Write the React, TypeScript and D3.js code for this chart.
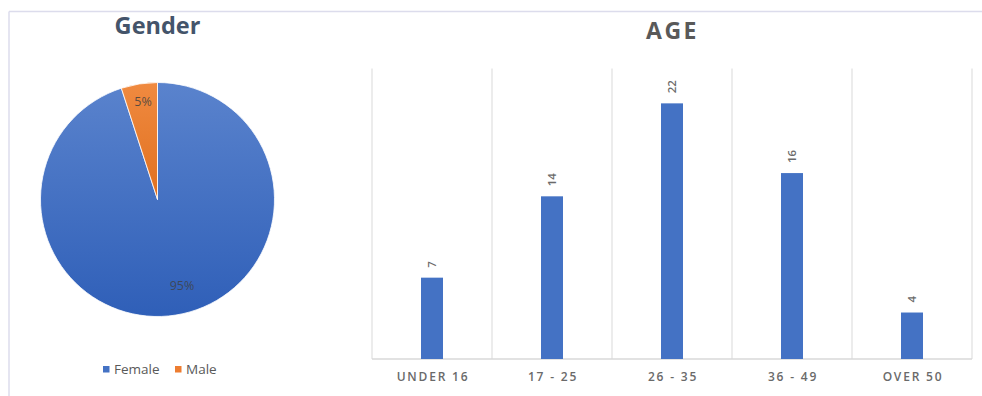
import React from "react";
import * as d3 from "d3";

const genderLabels = ["Female", "Male"];
const genderValues = [95, 5];
const genderColors = ["#4472c4", "#ed7d31"];

const ageCategories = ["UNDER 16", "17 - 25", "26 - 35", "36 - 49", "OVER 50"];
const ageValues = [7, 14, 22, 16, 4];
const yMax = 25;

const W = 982;
const H = 396;
const FONT = "'Open Sans', 'DejaVu Sans', sans-serif";

export default function App() {
  // pie
  const cx = 157.5, cy = 199.5, r = 117;
  const pie = d3.pie<number>().sort(null).value((d) => d)(genderValues);
  const arc = d3.arc<d3.PieArcDatum<number>>().innerRadius(0).outerRadius(r);

  // bars
  const x = d3.scaleBand<string>().domain(ageCategories).range([372, 972]).padding(0);
  const y = d3.scaleLinear().domain([0, yMax]).range([359, 68.5]);
  const barW = 22;

  return (
    <svg width={W} height={H} style={{ position: "absolute", left: 0, top: 0, background: "#fff" }}>
      <defs>
        <linearGradient id="gFemale" x1="0" y1="0" x2="0" y2="1">
          <stop offset="0" stopColor="#5a83cd" />
          <stop offset="1" stopColor="#2f5fb8" />
        </linearGradient>
        <linearGradient id="gMale" x1="0" y1="0" x2="0" y2="1">
          <stop offset="0" stopColor="#f08a40" />
          <stop offset="1" stopColor="#e0701f" />
        </linearGradient>
      </defs>
      <rect x={0} y={0} width={W} height={H} fill="#fff" />
      {/* frame */}
      <line x1={9} y1={11.5} x2={W} y2={11.5} stroke="#dcdcec" strokeWidth={1.5} />
      <line x1={9} y1={11.5} x2={9} y2={H} stroke="#dcdcec" strokeWidth={1.5} />

      {/* Gender */}
      <text x={157.5} y={33.5} textAnchor="middle" fontFamily={FONT} fontWeight={700} fontSize={23.5} fill="#44546a">
        Gender
      </text>
      <g transform={`translate(${cx},${cy})`}>
        {pie.map((p, i) => (
          <path key={i} d={arc(p) || ""} fill={i === 0 ? "url(#gFemale)" : "url(#gMale)"} stroke="#ffffff" strokeWidth={0.8} />
        ))}
      </g>
      <text x={143} y={106} textAnchor="middle" fontFamily={FONT} fontSize={12.5} fill="#404040" fillOpacity={0.85}>
        {genderValues[1]}%
      </text>
      <text x={182} y={290} textAnchor="middle" fontFamily={FONT} fontSize={12.5} fill="#404040" fillOpacity={0.8}>
        {genderValues[0]}%
      </text>
      {/* legend */}
      {genderLabels.map((lab, i) => {
        const lx = i === 0 ? 103 : 175;
        return (
          <g key={lab}>
            <rect x={lx} y={366} width={6.5} height={6.5} fill={genderColors[i]} />
            <text x={lx + 11} y={374} fontFamily={FONT} fontSize={13.5} fill="#595959">
              {lab}
            </text>
          </g>
        );
      })}

      {/* AGE */}
      <text x={672.5} y={38.5} textAnchor="middle" fontFamily={FONT} fontWeight={700} fontSize={23} letterSpacing={2.5} fill="#595959">
        AGE
      </text>
      {/* gridlines */}
      {[...ageCategories.map((c) => x(c) as number), 972].map((gx, i) => (
        <line key={i} x1={gx} y1={68.5} x2={gx} y2={359} stroke="#d9d9d9" strokeWidth={1} />
      ))}
      <line x1={372} y1={359} x2={972} y2={359} stroke="#d9d9d9" strokeWidth={1.5} />
      {ageCategories.map((c, i) => {
        const bx = (x(c) as number) + x.bandwidth() / 2;
        const top = y(ageValues[i]);
        return (
          <g key={c}>
            <rect x={bx - barW / 2} y={top} width={barW} height={359 - top} fill="#4472c4" />
            <text
              transform={`translate(${bx + 4},${top - 10}) rotate(-90)`}
              fontFamily={FONT}
              fontSize={11.5}
              fontWeight={600}
              fill="#6a6a6a"
            >
              {ageValues[i]}
            </text>
            <text x={bx + 1} y={380.5} textAnchor="middle" fontFamily={FONT} fontSize={12} fontWeight={600} letterSpacing={1.8} fill="#6a6a6a">
              {c}
            </text>
          </g>
        );
      })}
    </svg>
  );
}
